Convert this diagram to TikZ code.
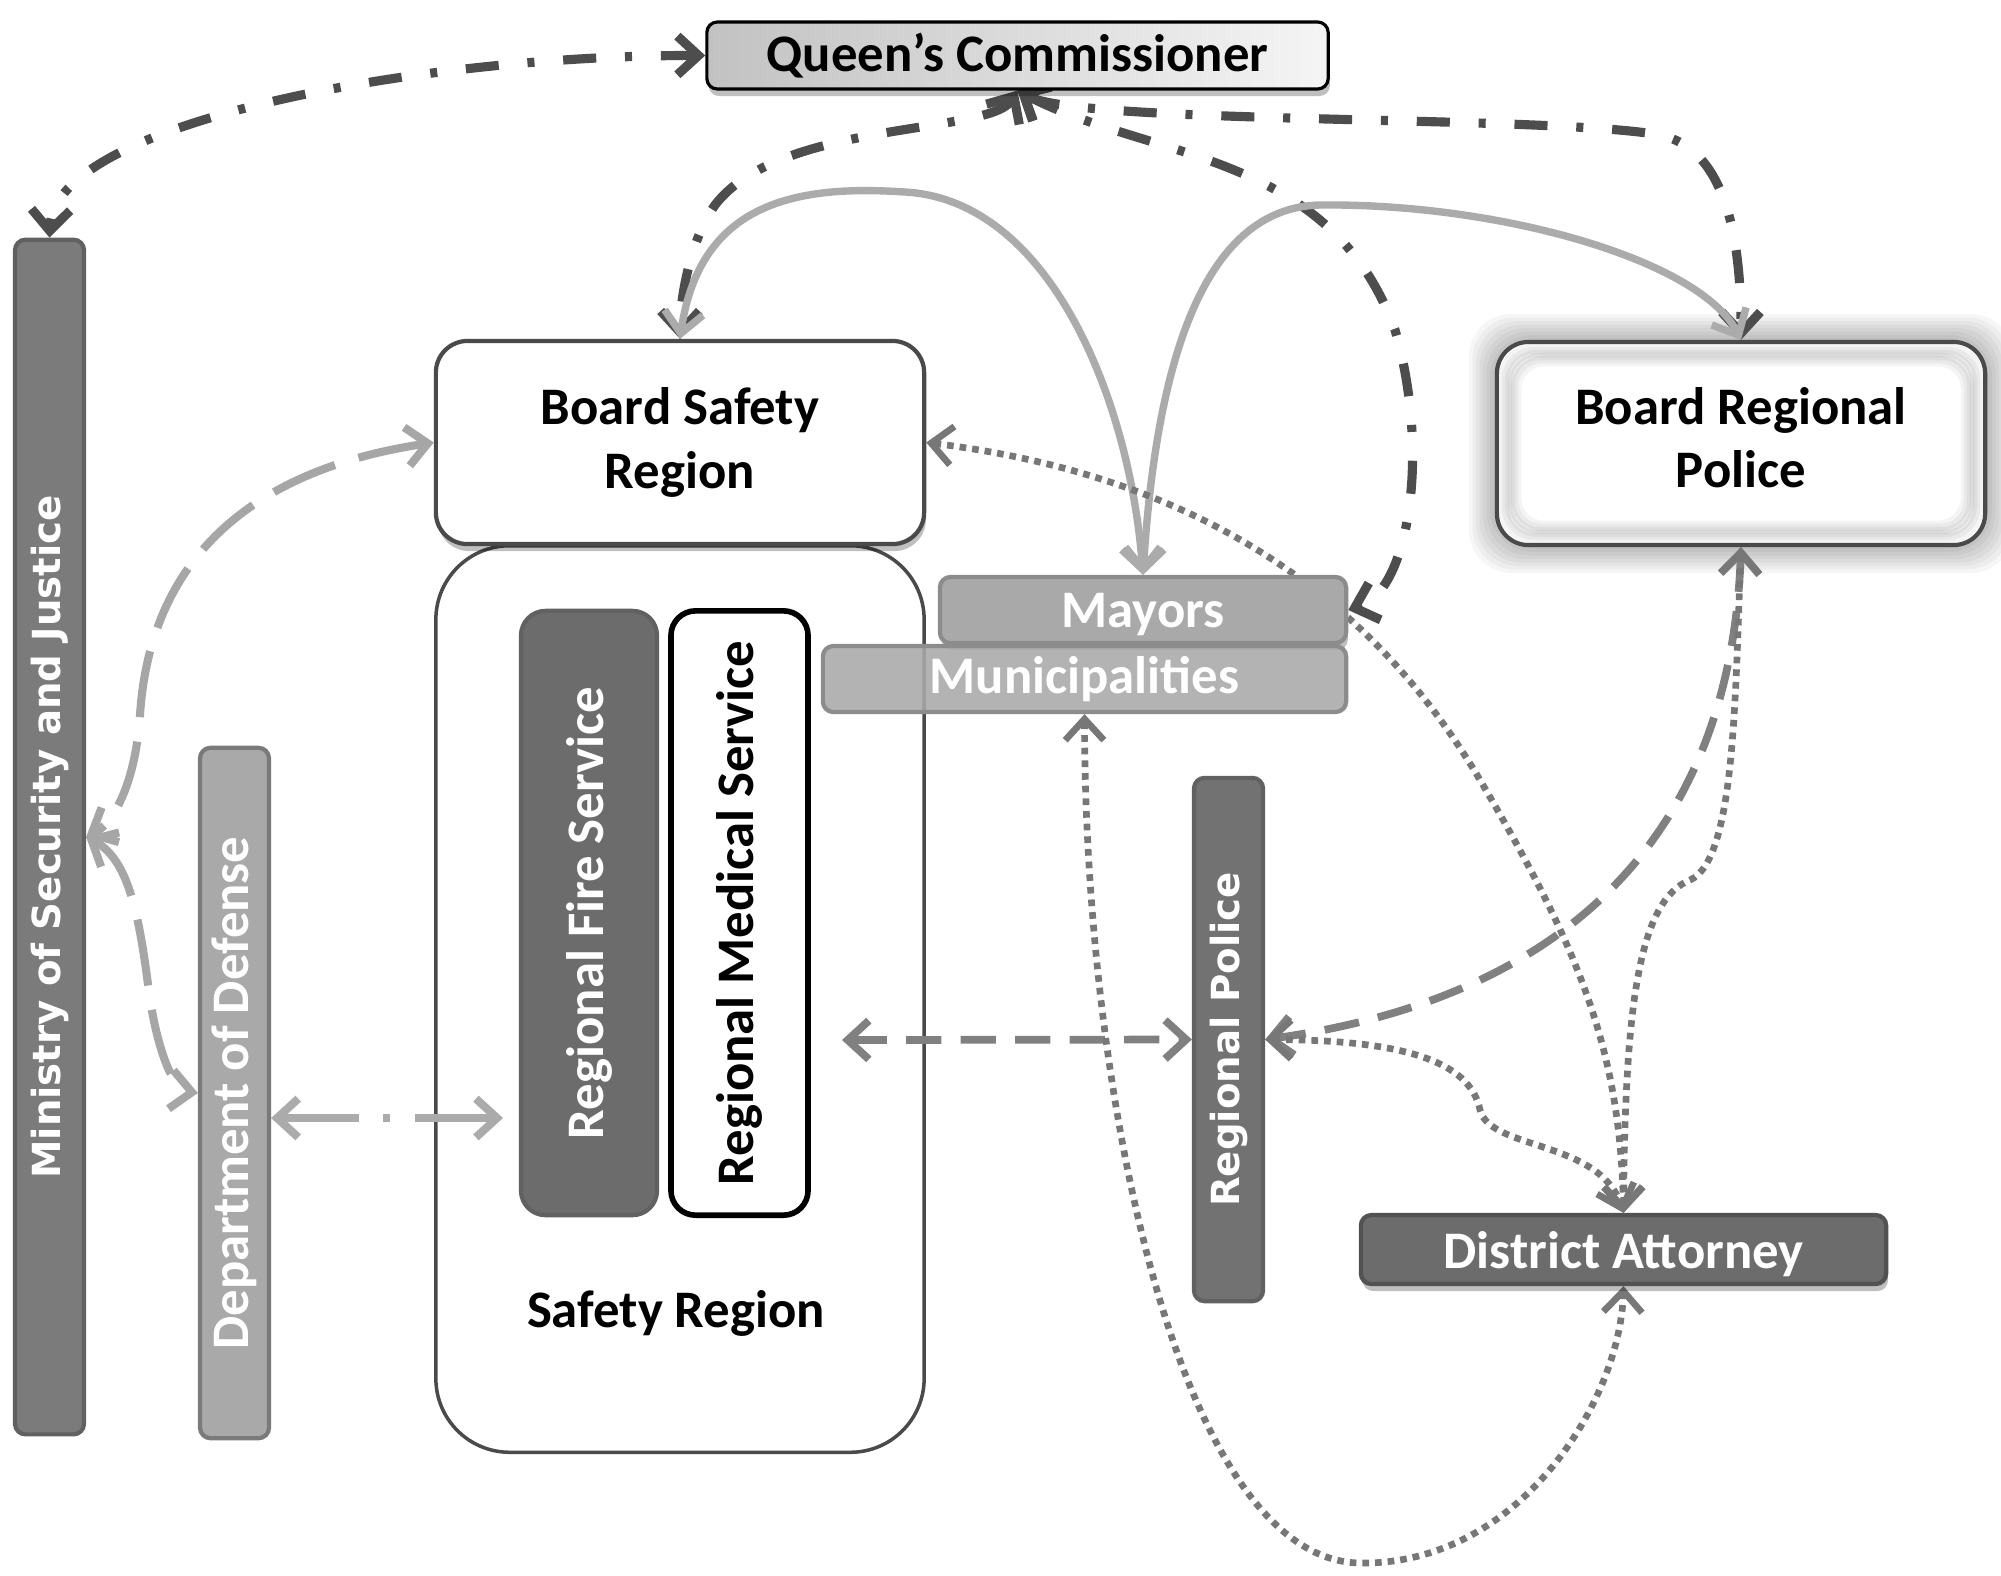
\documentclass[tikz,border=0pt]{standalone}
\usepackage{fontspec}
\setmainfont{Carlito}
\newfontfamily\verd[BoldFont={DejaVu Sans Bold}]{DejaVu Sans}
\usetikzlibrary{arrows.meta,shadows,calc}
\pgfdeclarelayer{bg}
\pgfdeclarelayer{edges}
\pgfsetlayers{bg,edges,main}
\definecolor{dk}{HTML}{4D4D4D}
\definecolor{lgA}{HTML}{ABABAB}
\definecolor{lgB}{HTML}{A6A6A6}
\definecolor{mg}{HTML}{808080}
\definecolor{dotc}{HTML}{777777}
\definecolor{bord}{HTML}{4A4A4A}
\definecolor{fillMin}{HTML}{7B7B7B}
\definecolor{fillDod}{HTML}{A9A9A9}
\definecolor{fillDark}{HTML}{6C6C6C}
\definecolor{fillRP}{HTML}{727272}
\definecolor{fillMay}{HTML}{A9A9A9}
\begin{document}
\begin{tikzpicture}[x=0.01cm,y=-0.01cm,
  txt/.style={font=\fontsize{15}{18}\selectfont\bfseries, align=center, inner sep=0pt},
  vtxt/.style={font=\verd\fontsize{11}{13}\selectfont\bfseries, align=center, inner sep=0pt},
  shad/.style={drop shadow={shadow xshift=0.5pt, shadow yshift=-2pt, opacity=0.25, fill=black}},
  both/.style={arrows={Straight Barb[length=6pt,width=11pt]-Straight Barb[length=6pt,width=11pt]}},
  ddot/.style={draw=dk, line width=2.6pt, dash pattern=on 9.4pt off 8.2pt on 2pt off 8.2pt},
  lgs/.style={draw=lgA, line width=2.1pt},
  lgd/.style={draw=lgB, line width=2.3pt, dash pattern=on 19pt off 7pt},
  lgdd/.style={draw=lgA, line width=2.3pt, dash pattern=on 22pt off 7pt on 2pt off 7pt},
  mgd/.style={draw=mg, line width=2.2pt, dash pattern=on 10pt off 5.5pt},
  dotl/.style={draw=dotc, line width=1.9pt, dash pattern=on 1.9pt off 1.7pt},
]
\useasboundingbox (0,0) rectangle (2001,1575);

% background layer: page, safety region and glow
\begin{pgfonlayer}{bg}
  \fill[white] (0,0) rectangle (2001,1575);
  \node[draw=bord, fill=white, line width=1pt, rounded corners=21pt,
        minimum width=4.88cm, minimum height=9.06cm] (sr) at (680,999) {};
  \foreach \i in {1,...,8}
    \fill[black, opacity=0.035, rounded corners=12pt]
      (1497-\i*3.5, 342-\i*3.5) rectangle (1985+\i*3.5, 545+\i*3.5);
\end{pgfonlayer}

% nodes
\node[txt, draw=black, line width=0.9pt, rounded corners=3pt, left color=black!24, right color=black!4, shad,
      minimum width=6.21cm, minimum height=0.67cm] (qc) at (1017.5,55.5) {Queen’s Commissioner};

\node[vtxt, text=white, draw=black!62, fill=fillMin, line width=1.2pt, rounded corners=3pt, rotate=90,
      minimum width=11.94cm, minimum height=0.69cm] (min) at (49.5,837) {Ministry of Security and Justice};

\node[txt, text=white, draw=black!52, fill=fillDod, line width=1.2pt, rounded corners=3pt, rotate=90,
      minimum width=6.90cm, minimum height=0.69cm] (dod) at (234.5,1093) {Department of Defense};

\node[txt, draw=bord, fill=white, line width=1.2pt, rounded corners=9pt, shad,
      minimum width=4.88cm, minimum height=2.03cm] (bsr) at (680,442.5) {Board Safety\\Region};

\node[txt] (srl) at (676,1313) {Safety Region};

\node[txt, text=white, draw=black!62, fill=fillDark, line width=1.2pt, rounded corners=7pt, rotate=90,
      minimum width=6.04cm, minimum height=1.36cm] (rfs) at (589,913) {Regional Fire Service};

\node[txt, draw=black, fill=white, line width=1.6pt, rounded corners=7pt, rotate=90,
      minimum width=6.04cm, minimum height=1.37cm] (rms) at (739.5,913) {Regional Medical Service};

\node[txt, text depth=0pt, text=white, draw=black!45, fill=fillMay, line width=1.2pt, rounded corners=3pt, shad,
      minimum width=4.06cm, minimum height=0.66cm] (may) at (1143,610) {Mayors};

\node[txt, text=white, draw=black!45, fill=fillMay, fill opacity=0.88, text opacity=1, line width=1.2pt, rounded corners=3pt,
      minimum width=5.23cm, minimum height=0.66cm] (mun) at (1084.5,679) {Municipalities};

\node[vtxt, text=white, draw=black!62, fill=fillRP, line width=1.2pt, rounded corners=3pt, rotate=90,
      minimum width=5.23cm, minimum height=0.69cm] (rp) at (1228.5,1039.5) {Regional Police};

\node[txt, draw=bord, fill=white, line width=1.2pt, rounded corners=9pt,
      minimum width=4.88cm, minimum height=2.03cm] (brp) at (1741,443.5) {\raisebox{2pt}{\begin{tabular}{@{}c@{}}Board Regional\\Police\end{tabular}}};
\foreach \i in {1,...,5}
  \draw[black, opacity=0.045, line width=3pt, rounded corners=8pt]
    (1497+4+\i*3, 342+4+\i*3) rectangle (1985-4-\i*3, 545-4-\i*3);

\node[txt, text depth=0pt, text=white, draw=black!68, fill=fillDark, line width=1.2pt, rounded corners=3pt, shad,
      minimum width=5.25cm, minimum height=0.69cm] (da) at (1623.5,1249.5) {District Attorney};

\coordinate (rfsin) at (503,1118);
\coordinate (rmsout) at (842,1040);

% connectors
\begin{pgfonlayer}{edges}
  \draw[ddot, both] (qc.west) .. controls (430,55) and (55,120) .. (min.east);
  \draw[ddot, both] (qc.south) .. controls (990,135) and (780,120) .. (715,205) .. controls (690,240) and (680,300) .. (bsr.north);
  \draw[ddot, both] (qc.south) .. controls (1150,160) and (1330,150) .. (1395,330) .. controls (1430,450) and (1410,590) .. (may.east);
  \draw[ddot, both] (qc.south) .. controls (1080,125) and (1550,115) .. (1660,135) .. controls (1730,150) and (1741,250) .. (brp.north);

  \draw[lgs, both] (bsr.north) .. controls (700,200) and (800,185) .. (905,192) .. controls (1050,200) and (1130,400) .. (may.north);
  \draw[lgs, both] (may.north) .. controls (1160,300) and (1230,207) .. (1320,205) .. controls (1500,203) and (1700,260) .. (brp.north);

  \draw[lgd, both] (bsr.west) .. controls (250,470) and (150,560) .. (140,715) .. controls (135,790) and (110,825) .. (min.south);
  \draw[lgd, both] (min.south) .. controls (130,860) and (140,920) .. (150,1000) .. controls (160,1060) and (175,1090) .. (dod.north);

  \draw[lgdd, both] (dod.south |- rfsin) -- (rfsin);
  \draw[mgd, both] (rmsout) -- (rp.north);
  \draw[mgd, both] (brp.south) .. controls (1730,850) and (1550,1000) .. (rp.south);

  \draw[dotl, both] (bsr.east) .. controls (1150,470) and (1350,560) .. (1480,780) .. controls (1580,950) and (1620,1050) .. (da.north);
  \draw[dotl, both] (brp.south) .. controls (1735,700) and (1735,860) .. (1690,880) .. controls (1640,900) and (1625,1000) .. (da.north);
  \draw[dotl, both] (rp.south) .. controls (1400,1040) and (1470,1060) .. (1480,1110) .. controls (1490,1150) and (1600,1140) .. (da.north);
  \draw[dotl, both] (mun.south) .. controls (1085,1100) and (1180,1560) .. (1360,1563) .. controls (1520,1565) and (1620,1400) .. (da.south);
\end{pgfonlayer}
\end{tikzpicture}
\end{document}
